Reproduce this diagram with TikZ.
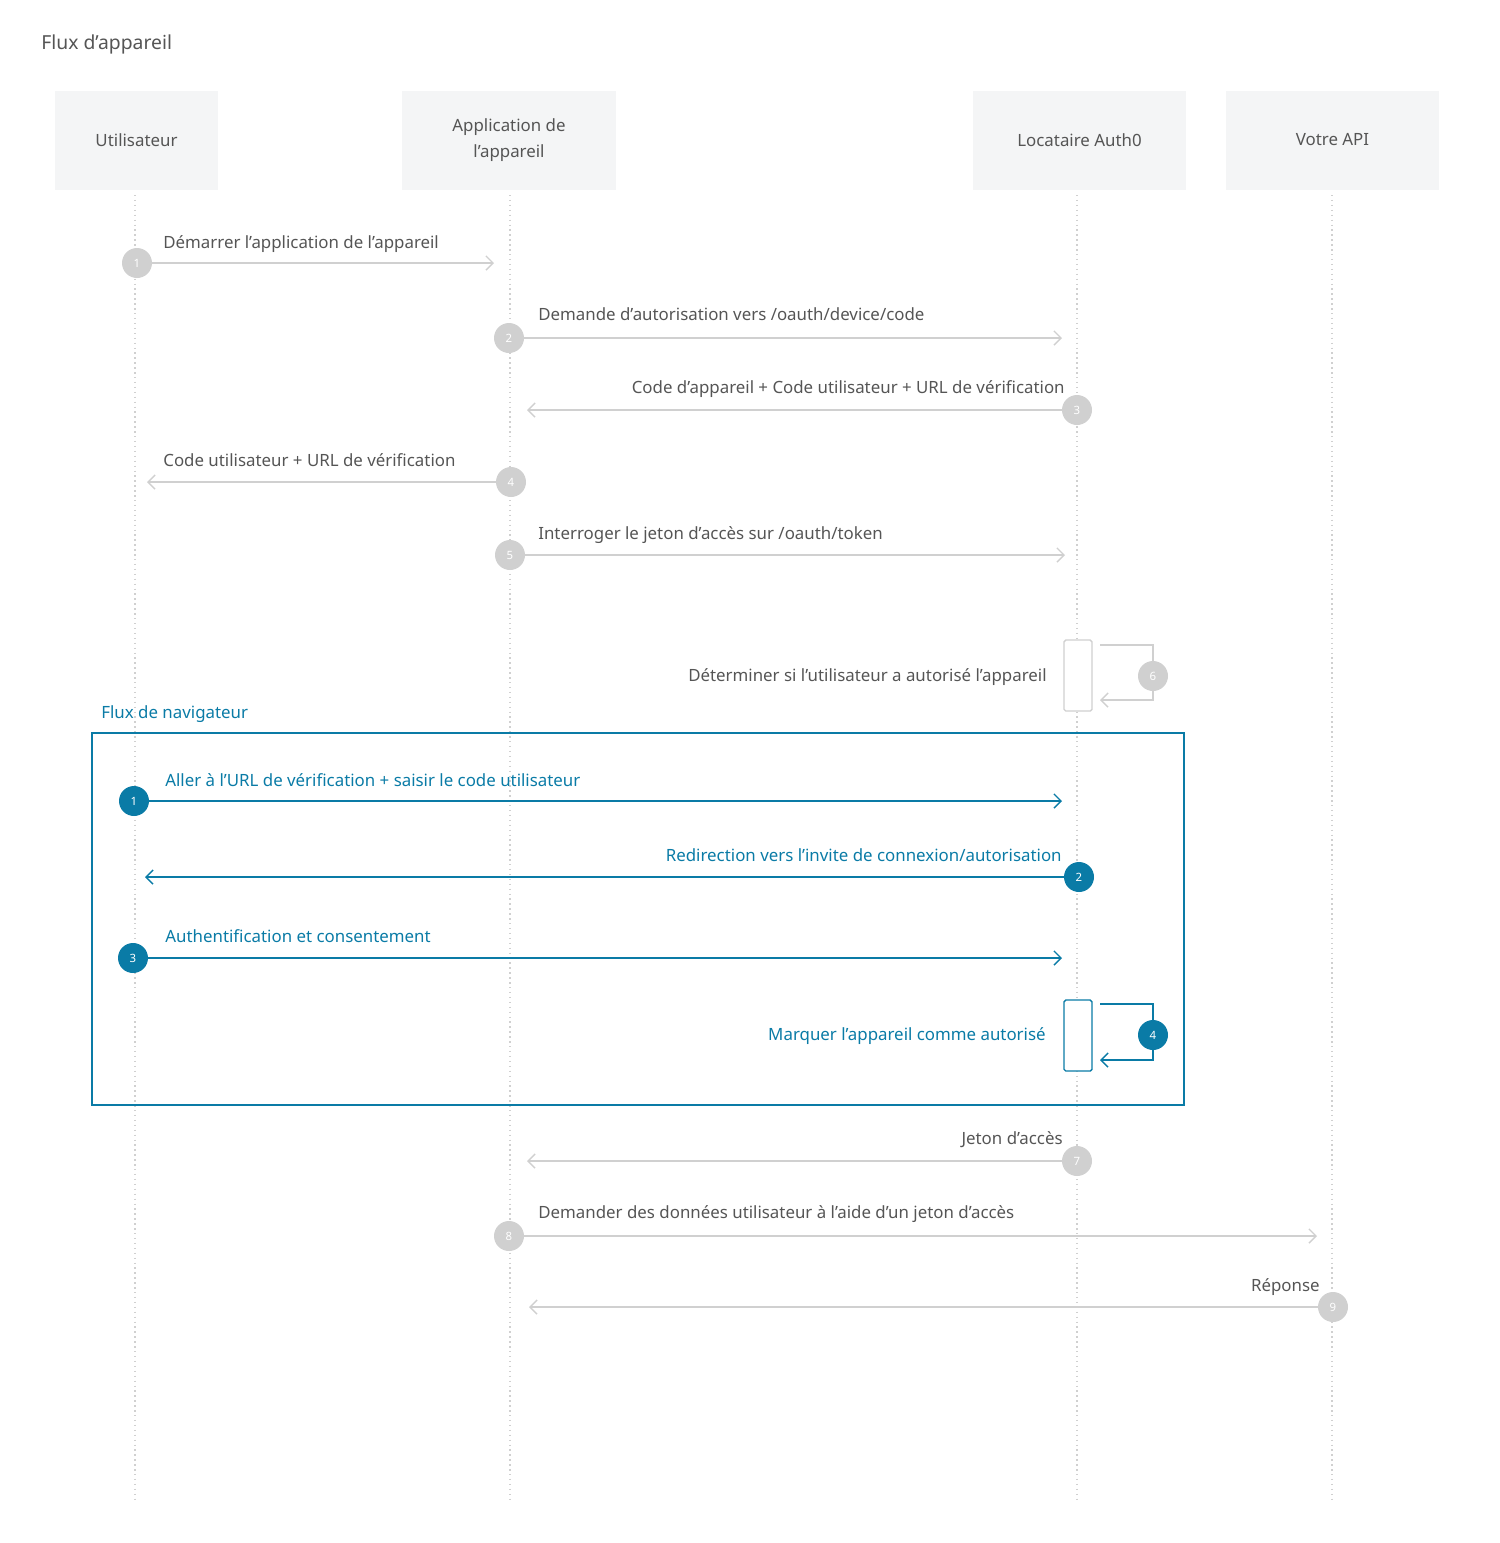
\documentclass[tikz,border=0pt]{standalone}
\usepackage{fontspec}
\setmainfont{Noto Sans}
\usetikzlibrary{arrows.meta, positioning}
\definecolor{msggray}{HTML}{D0D0D0}
\definecolor{txtgray}{HTML}{555555}
\definecolor{hdrfill}{HTML}{F4F5F6}
\definecolor{flowblue}{HTML}{0A7BA6}
\begin{document}
\begin{tikzpicture}[x=0.02cm,y=-0.02cm,font=\fontsize{9.6}{14.7}\selectfont]
    \tikzstyle{header}=[fill=hdrfill,text=txtgray,align=center,minimum width=3.26cm,minimum height=1.98cm,inner sep=0pt]
    \tikzstyle{num}=[shape=circle,fill=msggray,text=white,minimum size=0.6cm,inner sep=0pt,font=\fontsize{6.5}{7}\selectfont]
    \tikzstyle{bnum}=[num,fill=flowblue]
    \tikzstyle{msg}=[draw=msggray,line width=0.8pt,-{Straight Barb[length=4pt,width=8pt]}]
    \tikzstyle{bmsg}=[msg,draw=flowblue]
    \tikzstyle{lbl}=[text=txtgray,inner sep=0pt]
    \tikzstyle{blbl}=[lbl,text=flowblue]
    \tikzstyle{life}=[draw=msggray,line width=0.8pt,dotted]
    \path[use as bounding box] (0,0) rectangle (1500,1543);

    \node[lbl,anchor=west,font=\fontsize{11}{13}\selectfont] (title) at (41,44) {Flux d'appareil};

    % participants
    \node[header,minimum width=3.26cm] (U) at (136.5,140) {Utilisateur};
    \node[header,minimum width=4.28cm] (D) at (509,140) {Application de\\l’appareil};
    \node[header,minimum width=4.26cm] (A) at (1079.5,140) {Locataire Auth0};
    \node[header,minimum width=4.26cm] (P) at (1332.5,140) {Votre API};
    \foreach \n/\x in {U/135,D/510,A/1077,P/1332}
        \draw[life] (\x,195) -- (\x,1503);

    % browser frame
    \draw[flowblue,line width=0.8pt] (92,733) rectangle (1184,1105);
    \node[blbl,anchor=base west] (frame) at (101,718) {Flux de navigateur};

    % activations
    \draw[msggray,line width=0.8pt,fill=white,rounded corners=1pt] (1064,640) rectangle (1092,711);
    \draw[flowblue,line width=0.8pt,fill=white,rounded corners=1pt] (1064,1000) rectangle (1092,1071);

    % steps
    \node[num] (s1) at (137,263) {1};
    \coordinate (e1) at (494,263);
    \node[num] (s2) at (509,338) {2};
    \coordinate (e2) at (1062,338);
    \node[num] (s3) at (1077,410) {3};
    \coordinate (e3) at (527,410);
    \node[num] (s4) at (511,482) {4};
    \coordinate (e4) at (147,482);
    \node[num] (s5) at (510,555) {5};
    \coordinate (e5) at (1065,555);
    \node[num] (s6) at (1153,676) {6};
    \node[num] (s7) at (1077,1161) {7};
    \coordinate (e7) at (527,1161);
    \node[num] (s8) at (509,1236) {8};
    \coordinate (e8) at (1317,1236);
    \node[num] (s9) at (1333,1307) {9};
    \coordinate (e9) at (529,1307);

    \node[bnum] (b1) at (134,801) {1};
    \coordinate (f1) at (1062,801);
    \node[bnum] (b2) at (1079,877) {2};
    \coordinate (f2) at (145,877);
    \node[bnum] (b3) at (133,958) {3};
    \coordinate (f3) at (1062,958);
    \node[bnum] (b4) at (1153,1035) {4};

    \path[msg]
    (s1) edge (e1)
    (s2) edge (e2)
    (s3) edge (e3)
    (s4) edge (e4)
    (s5) edge (e5)
    (s7) edge (e7)
    (s8) edge (e8)
    (s9) edge (e9);
    \draw[msg] (1100,645) -- (1153,645) -- (s6) -- (1153,700) -- (1100,700);

    \path[bmsg]
    (b1) edge (f1)
    (b2) edge (f2)
    (b3) edge (f3);
    \draw[bmsg] (1100,1004) -- (1153,1004) -- (b4) -- (1153,1060) -- (1100,1060);

    % labels
    \node[lbl,anchor=base west] at (163,248) {Démarrer l’application de l’appareil};
    \node[lbl,anchor=base west] at (538,320) {Demande d’autorisation vers /oauth/device/code};
    \node[lbl,anchor=base east] at (1065,393) {Code d’appareil + Code utilisateur + URL de vérification};
    \node[lbl,anchor=base west] at (163,466) {Code utilisateur + URL de vérification};
    \node[lbl,anchor=base west] at (538,539) {Interroger le jeton d’accès sur /oauth/token};
    \node[lbl,anchor=base east] at (1047,681) {Déterminer si l’utilisateur a autorisé l’appareil};
    \node[blbl,anchor=base west] at (165,786) {Aller à l’URL de vérification + saisir le code utilisateur};
    \node[blbl,anchor=base east] at (1062,861) {Redirection vers l’invite de connexion/autorisation};
    \node[blbl,anchor=base west] at (165,942) {Authentification et consentement};
    \node[blbl,anchor=base east] at (1046,1040) {Marquer l’appareil comme autorisé};
    \node[lbl,anchor=base east] at (1063,1144) {Jeton d’accès};
    \node[lbl,anchor=base west] at (538,1218) {Demander des données utilisateur à l’aide d’un jeton d’accès};
    \node[lbl,anchor=base east] at (1320,1291) {Réponse};
\end{tikzpicture}
\end{document}
